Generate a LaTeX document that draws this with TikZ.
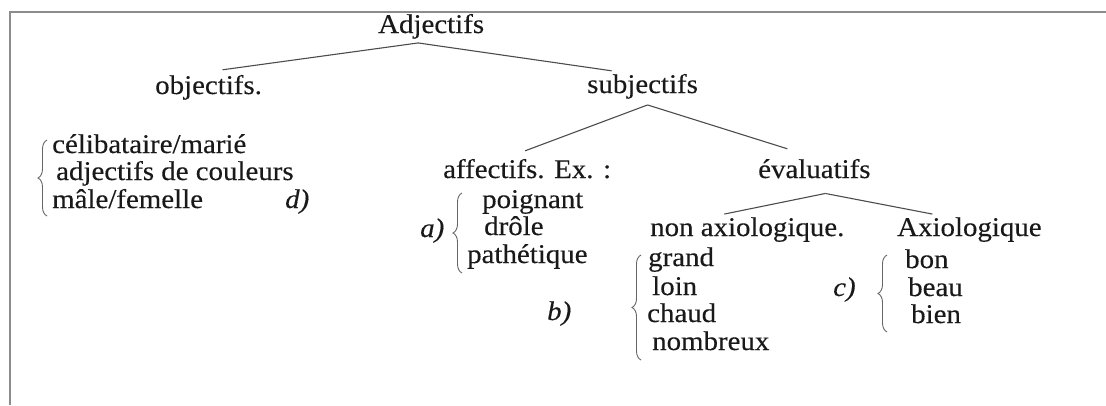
\documentclass[tikz,border=0pt]{standalone}
\usepackage{fontspec}
\setmainfont[FakeStretch=1.07,FakeBold=0.3]{Liberation Serif}
\usetikzlibrary{decorations.pathreplacing}

\begin{document}
\begin{tikzpicture}[x=1pt,y=-1pt,
    every node/.style={anchor=base west,inner sep=0pt,text=black!90,font=\fontsize{27}{32}\selectfont},
    lbl/.style={font=\fontsize{27}{32}\selectfont\itshape},
    branch/.style={draw=black!70,line width=1.1pt},
    curly/.style={draw=black!60,line width=0.9pt,decorate,decoration={brace,amplitude=9pt}}]
    \useasboundingbox (0,0) rectangle (1106,405);
    \draw[black!45,line width=2pt] (10,405) -- (10,12) -- (1106,12);

    \node (ADJ) at (378,33) {Adjectifs};
    \node (OBJ) at (155,94) {objectifs.};
    \node (SUBJ) at (587,93) {subjectifs};
    \node (AFF) at (443,178) {affectifs. Ex. :};
    \node (EVAL) at (758,178) {évaluatifs};
    \node (NONAX) at (650,236) {non axiologique.};
    \node (AXIO) at (897,236) {Axiologique};

    \node (CEL) at (52,153) {célibataire/marié};
    \node (COUL) at (56,180) {adjectifs de couleurs};
    \node (MALE) at (52,208) {mâle/femelle};
    \node[lbl] (LD) at (285,208) {d)};

    \node (POIG) at (482,208) {poignant};
    \node (DROLE) at (484,235) {drôle};
    \node (PATH) at (467,263) {pathétique};
    \node[lbl] (LA) at (420,237) {a)};

    \node (GRAND) at (648,266) {grand};
    \node (LOIN) at (652,295) {loin};
    \node (CHAUD) at (647,322) {chaud};
    \node (NOMB) at (652,350) {nombreux};
    \node[lbl] (LB) at (547,320) {b)};

    \node (BON) at (905,268) {bon};
    \node (BEAU) at (908,296) {beau};
    \node (BIEN) at (911,323) {bien};
    \node[lbl] (LC) at (833,296) {c)};

    \draw[branch] ([shift={(-13,4)}]ADJ.south) edge ([shift={(14,-5)}]OBJ.north)
      edge ([shift={(-31,-3)}]SUBJ.north);
    \draw[branch] ([shift={(5,6)}]SUBJ.south) edge ([shift={(-2,-8)}]AFF.north)
      edge ([shift={(-27,-10)}]EVAL.north);
    \draw[branch] ([shift={(11,15)}]EVAL.south) edge ([shift={(-23,-3)}]NONAX.north)
      edge ([shift={(-37,-3)}]AXIO.north);

    \draw[curly] (47,216) -- (47,140);
    \draw[curly] (462,273) -- (462,193);
    \draw[curly] (641,360) -- (641,255);
    \draw[curly] (887,332) -- (887,255);
  \end{tikzpicture}
\end{document}
